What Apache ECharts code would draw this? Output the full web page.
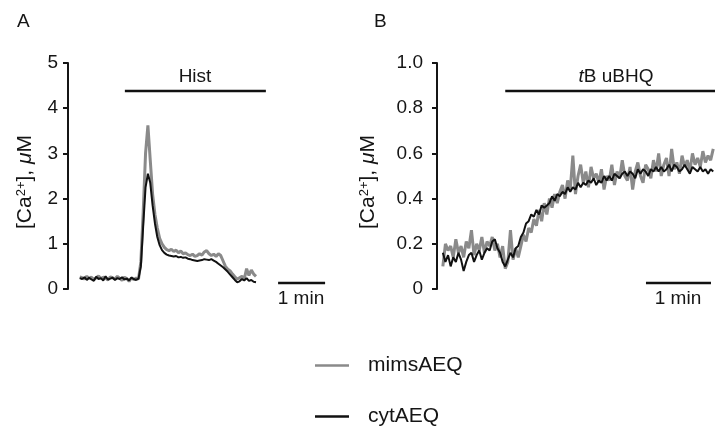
<!DOCTYPE html>
<html>
<head>
<meta charset="utf-8">
<script src="https://cdn.jsdelivr.net/npm/echarts@6/dist/echarts.min.js"></script>
<style>html,body{margin:0;padding:0;background:#fff}#c{width:715px;height:426px}</style>
</head>
<body>
<div id="c"></div>
<script>
// ---- Data ----
// Panel A (Hist), time in minutes, sample step dtA starting at t0A
var t0A = 0.25, dtA = 0.05;
var mimsA = [0.27,0.25,0.22,0.28,0.24,0.26,0.21,0.25,0.29,0.23,0.26,0.24,0.20,0.27,0.25,0.22,0.28,0.24,0.19,0.26,0.23,0.17,0.25,0.21,0.24,0.22,
  0.60,1.70,3.00,3.62,2.85,2.10,1.65,1.35,1.12,1.00,0.92,0.87,0.85,0.88,0.83,0.86,0.80,0.84,0.78,0.80,0.76,0.74,0.77,0.72,0.74,0.78,0.75,0.82,0.85,0.78,0.74,0.77,0.72,0.78,0.74,
  0.62,0.50,0.44,0.40,0.33,0.27,0.22,0.25,0.28,0.22,0.45,0.30,0.42,0.33,0.28];
var cytA = [0.24,0.22,0.26,0.20,0.25,0.21,0.18,0.27,0.22,0.24,0.19,0.28,0.21,0.23,0.25,0.20,0.24,0.22,0.26,0.21,0.23,0.19,0.25,0.22,0.20,0.23,
  0.50,1.40,2.25,2.55,2.35,1.85,1.45,1.15,0.97,0.86,0.80,0.76,0.74,0.73,0.72,0.73,0.70,0.71,0.69,0.70,0.67,0.66,0.64,0.63,0.62,0.63,0.64,0.66,0.65,0.64,0.66,0.63,
  0.60,0.56,0.52,0.48,0.43,0.38,0.32,0.26,0.20,0.15,0.17,0.22,0.19,0.24,0.18,0.20,0.16,0.15];
// Panel B (tBuBHQ)
var t0B = 0.09, dtB = 0.04;
var mimsB = [0.10,0.20,0.17,0.19,0.14,0.22,0.16,0.19,0.14,0.21,
  0.18,0.26,0.15,0.20,0.17,0.23,0.16,0.21,0.19,0.23,
  0.17,0.20,0.14,0.19,0.09,0.12,0.26,0.13,0.18,0.14,
  0.19,0.24,0.21,0.27,0.25,0.31,0.28,0.35,0.30,0.38,
  0.33,0.40,0.36,0.42,0.38,0.43,0.46,0.40,0.48,0.44,
  0.59,0.42,0.50,0.55,0.47,0.52,0.45,0.54,0.49,0.51,
  0.47,0.53,0.44,0.50,0.48,0.55,0.46,0.52,0.49,0.57,
  0.50,0.48,0.54,0.44,0.52,0.56,0.50,0.47,0.55,0.53,
  0.49,0.57,0.52,0.60,0.50,0.55,0.58,0.50,0.62,0.53,
  0.56,0.51,0.59,0.54,0.57,0.52,0.60,0.55,0.58,0.54,
  0.61,0.56,0.59,0.57,0.62];
var cytB = [0.16,0.12,0.15,0.10,0.14,0.12,0.16,0.13,0.08,0.12,
  0.15,0.16,0.12,0.15,0.17,0.13,0.16,0.18,0.17,0.21,
  0.22,0.18,0.16,0.12,0.10,0.13,0.16,0.14,0.18,0.19,
  0.23,0.25,0.29,0.30,0.33,0.32,0.35,0.33,0.37,0.36,
  0.37,0.38,0.41,0.39,0.42,0.41,0.43,0.42,0.45,0.43,
  0.45,0.44,0.47,0.45,0.47,0.46,0.48,0.47,0.49,0.46,
  0.48,0.47,0.50,0.48,0.50,0.48,0.51,0.50,0.49,0.51,
  0.52,0.50,0.52,0.51,0.49,0.53,0.51,0.53,0.52,0.50,
  0.53,0.52,0.54,0.52,0.54,0.52,0.53,0.55,0.52,0.55,
  0.54,0.52,0.53,0.55,0.53,0.51,0.54,0.53,0.52,0.54,
  0.52,0.53,0.51,0.53,0.52];
// Annotation bars (minutes / concentration)
var histBar = [[1.21, 4.38], [4.21, 4.38]];
var scaleBarA = [[4.47, 0.13], [5.47, 0.13]];
var drugBarB = [[1.05, 0.876], [4.3, 0.876]];
var scaleBarB = [[3.215, 0.027], [4.215, 0.027]];
var yTicksA = [0, 1, 2, 3, 4, 5];
var yTicksB = [0, 0.2, 0.4, 0.6, 0.8, 1.0];

function toXY(t0, dt, arr) { return arr.map(function (v, i) { return [t0 + i * dt, v]; }); }

var GRAY = '#8a8a8a', BLACK = '#111111', AX = '#151515';
var FONT = 'Liberation Sans, Arial, Helvetica, sans-serif';

function yAxis(gi, ticks, gap, margin, fmt) {
  return {
    type: 'value', gridIndex: gi, min: ticks[0], max: ticks[ticks.length - 1],
    interval: ticks[1] - ticks[0],
    axisLine: { show: true, lineStyle: { color: AX, width: 2 } },
    axisTick: { show: true, length: 5, lineStyle: { color: AX, width: 2 } },
    splitLine: { show: false },
    axisLabel: { fontSize: 19, color: AX, fontFamily: FONT, margin: margin, formatter: fmt },
    name: '[Ca{sup|2+}], {it|μ}M', nameLocation: 'middle', nameRotate: 90, nameGap: gap,
    nameTextStyle: { fontSize: 21, color: AX, fontFamily: FONT, padding: [0, 12, 0, 0],
      rich: { sup: { fontSize: 13, verticalAlign: 'top', fontFamily: FONT, color: AX, padding: [0, 0, 7, 0] },
              it: { fontSize: 21, fontStyle: 'italic', fontFamily: FONT, color: AX } } }
  };
}
function bar(xi, yi, data, w) {
  return { type: 'line', xAxisIndex: xi, yAxisIndex: yi, data: data, symbol: 'none', silent: true,
    lineStyle: { color: BLACK, width: w }, z: 5 };
}
function legend(name, top) {
  return {
    data: [name], left: 310, top: top,
    itemWidth: 34, itemHeight: 14, icon: 'path://M0,6h34v2.4h-34z',
    textStyle: { fontSize: 21, color: AX, fontFamily: FONT, padding: [0, 0, 0, 14] }
  };
}

var chart = echarts.init(document.getElementById('c'), null, { renderer: 'canvas' });
chart.setOption({
  animation: false,
  backgroundColor: '#fff',
  textStyle: { fontFamily: FONT },
  grid: [
    { left: 68, top: 63, width: 262, height: 226 },
    { left: 437, top: 63, width: 278, height: 226 }
  ],
  xAxis: [
    { type: 'value', gridIndex: 0, min: 0, max: 262 / 47, show: false },
    { type: 'value', gridIndex: 1, min: 0, max: 278 / 65, show: false }
  ],
  yAxis: [
    yAxis(0, yTicksA, 32, 10, function (v) { return String(v); }),
    yAxis(1, yTicksB, 58, 14, function (v) { return v === 0 ? '0' : v.toFixed(1); })
  ],
  legend: [legend('mimsAEQ', 350), legend('cytAEQ', 401)],
  series: [
    { name: 'mimsAEQ', type: 'line', xAxisIndex: 0, yAxisIndex: 0, data: toXY(t0A, dtA, mimsA), symbol: 'none',
      lineStyle: { color: GRAY, width: 3 }, itemStyle: { color: GRAY } },
    { name: 'cytAEQ', type: 'line', xAxisIndex: 0, yAxisIndex: 0, data: toXY(t0A, dtA, cytA), symbol: 'none',
      lineStyle: { color: BLACK, width: 2 }, itemStyle: { color: BLACK } },
    { name: 'mimsAEQ', type: 'line', xAxisIndex: 1, yAxisIndex: 1, data: toXY(t0B, dtB, mimsB), symbol: 'none',
      lineStyle: { color: GRAY, width: 3 }, itemStyle: { color: GRAY } },
    { name: 'cytAEQ', type: 'line', xAxisIndex: 1, yAxisIndex: 1, data: toXY(t0B, dtB, cytB), symbol: 'none',
      lineStyle: { color: BLACK, width: 2 }, itemStyle: { color: BLACK } },
    bar(0, 0, histBar, 2.5),
    bar(0, 0, scaleBarA, 2.5),
    bar(1, 1, drugBarB, 2.5),
    bar(1, 1, scaleBarB, 2.5)
  ],
  graphic: [
    { type: 'text', left: 17, top: 12, style: { text: 'A', fontSize: 19, fill: AX, fontFamily: FONT } },
    { type: 'text', left: 374, top: 12, style: { text: 'B', fontSize: 19, fill: AX, fontFamily: FONT } },
    { type: 'text', x: 195, y: 77, style: { text: 'Hist', fontSize: 19, fill: AX, fontFamily: FONT, align: 'center', verticalAlign: 'middle' } },
    { type: 'text', x: 616, y: 77, style: { text: '{i|t}B uBHQ', fontSize: 19, fill: AX, fontFamily: FONT, align: 'center', verticalAlign: 'middle',
        rich: { i: { fontStyle: 'italic', fontSize: 19, fontFamily: FONT, fill: AX } } } },
    { type: 'text', x: 301, y: 299, style: { text: '1 min', fontSize: 19, fill: AX, fontFamily: FONT, align: 'center', verticalAlign: 'middle' } },
    { type: 'text', x: 678, y: 299, style: { text: '1 min', fontSize: 19, fill: AX, fontFamily: FONT, align: 'center', verticalAlign: 'middle' } }
  ]
});
</script>
</body>
</html>
